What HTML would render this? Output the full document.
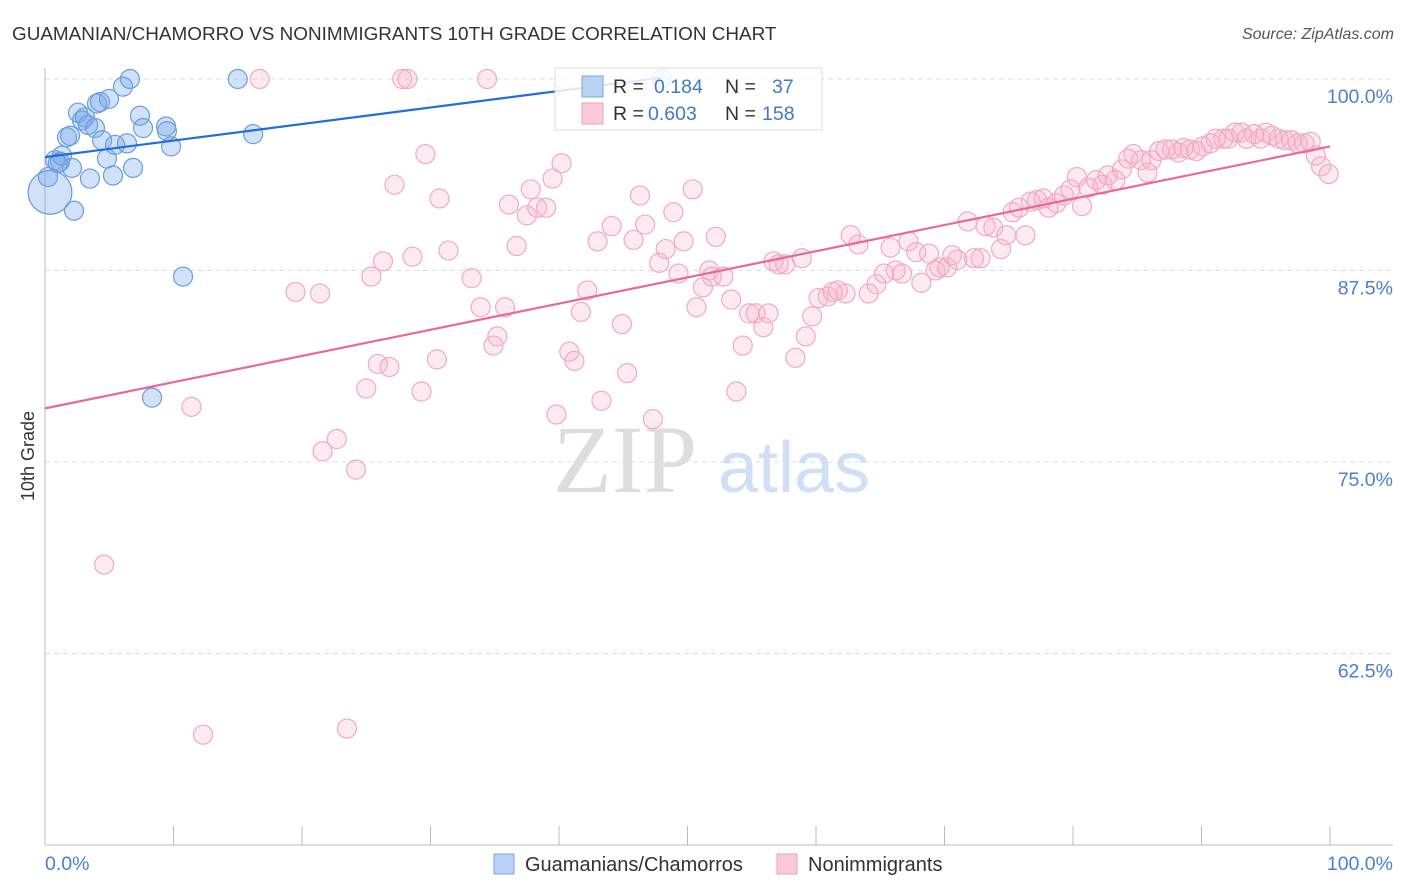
<!DOCTYPE html>
<html><head><meta charset="utf-8"><style>
body{margin:0;background:#fff;font-family:"Liberation Sans",sans-serif;}
svg{display:block}
</style></head><body>
<svg id="chart" width="1406" height="892">
<text x="12" y="40" font-size="18.9" fill="#333">GUAMANIAN/CHAMORRO VS NONIMMIGRANTS 10TH GRADE CORRELATION CHART</text>
<text x="1394" y="39" font-size="16" fill="#555" font-style="italic" text-anchor="end">Source: ZipAtlas.com</text>
<g>
<text x="553" y="492" font-size="96" fill="#ddd" font-family="Liberation Serif">ZIP</text>
<text x="718" y="492" font-size="72" fill="#cfe0f4">atlas</text>
</g>
<g id="grid"></g><g id="axes"></g><g id="pts"></g><g id="lines"></g>
<g>
<rect x="555" y="68" width="267" height="62" fill="rgba(255,255,255,0.85)" stroke="#ddd"/>
<rect x="582" y="76" width="21" height="21" fill="#b9d3f4" stroke="#7aa6e0"/>
<rect x="582" y="103" width="21" height="21" fill="#fbc9d9" stroke="#eda0bb"/>
<text y="93" font-size="19.5" fill="#333"><tspan x="613">R = </tspan><tspan x="654" fill="#3f78d0">0.184</tspan><tspan x="725">N = </tspan><tspan x="772" fill="#3f78d0">37</tspan></text>
<text y="120" font-size="19.5" fill="#333"><tspan x="613">R = </tspan><tspan x="648" fill="#3f78d0">0.603</tspan><tspan x="725">N = </tspan><tspan x="762" fill="#3f78d0">158</tspan></text>
</g>
<g>
<rect x="494" y="854" width="20" height="20" fill="#b9d3f4" stroke="#7aa6e0"/>
<text x="525" y="871" font-size="20" fill="#333">Guamanians/Chamorros</text>
<rect x="777" y="854" width="20" height="20" fill="#fbc9d9" stroke="#eda0bb"/>
<text x="808" y="871" font-size="20" fill="#333">Nonimmigrants</text>
</g>
<text transform="translate(34,456) rotate(-90)" font-size="18" fill="#333" text-anchor="middle">10th Grade</text>
</svg>
<script>
const yTicks=[100,87.5,75,62.5];
const yTickLabels=["100.0%","87.5%","75.0%","62.5%"];
const xTickLabels=["0.0%","100.0%"];
const blueX=[0.23,0.39,0.78,1.17,1.32,1.71,1.95,2.1,2.26,2.57,2.88,3.11,3.35,3.5,3.89,4.05,4.28,4.44,4.82,4.98,5.29,5.45,6.07,6.38,6.61,6.85,7.39,7.63,8.33,9.42,9.49,9.81,10.74,15.0,16.2,48.0,1.0];
const blueY=[93.6,92.6,94.7,94.6,95.0,96.2,96.3,94.2,91.4,97.8,97.3,97.5,97.0,93.5,96.8,98.4,98.5,96.0,94.8,98.7,93.7,95.7,99.5,95.8,100,94.2,97.6,96.8,79.2,96.9,96.6,95.6,87.1,100,96.4,100,94.5];
const blueSize=[1,2.3,1,1,1,1,1,1,1,1,1,1,1,1,1,1,1,1,1,1,1,1,1,1,1,1,1,1,1,1,1,1,1,1,1,1,1];
const pinkX=[4.6,12.3,11.4,16.7,19.5,21.4,21.6,22.7,23.5,24.2,25.0,25.4,25.9,26.3,26.8,27.2,27.8,28.2,28.6,29.3,29.6,30.5,30.7,31.4,33.2,33.9,34.4,34.9,35.2,35.8,36.1,36.7,37.5,37.8,38.3,39.0,39.5,39.8,40.2,40.8,41.2,41.7,42.2,43.0,43.3,44.1,44.9,45.3,45.8,46.3,46.7,47.3,47.8,48.3,48.9,49.3,49.7,50.4,50.7,51.2,51.7,51.9,52.2,52.8,53.4,53.8,54.3,54.8,55.3,55.9,56.3,56.7,57.1,57.6,58.4,58.9,59.2,59.7,60.2,60.9,61.3,61.7,62.3,62.7,63.3,64.1,64.7,65.3,65.8,66.2,66.7,67.2,67.8,68.2,68.8,69.3,69.6,70.2,70.6,71.0,71.8,72.3,72.8,73.2,73.8,74.4,74.8,75.3,75.8,76.3,76.7,77.2,77.7,78.1,78.7,79.3,79.8,80.3,80.7,81.2,81.8,82.3,82.7,83.3,83.8,84.3,84.7,85.3,85.8,86.1,86.7,87.2,87.7,88.2,88.6,89.1,89.6,90.1,90.7,91.1,91.7,92.1,92.6,93.1,93.5,94.1,94.6,95.0,95.5,96.0,96.5,97.0,97.5,98.0,98.5,98.9,99.3,99.9];
const pinkY=[68.3,57.2,78.6,100,86.1,86.0,75.7,76.5,57.6,74.5,79.8,87.1,81.4,88.1,81.2,93.1,100,100,88.4,79.6,95.1,81.7,92.2,88.8,87.0,85.1,100,82.6,83.2,85.1,91.8,89.1,91.1,92.8,91.6,91.6,93.5,78.1,94.5,82.2,81.6,84.8,86.2,89.4,79.0,90.4,84.0,80.8,89.5,92.4,90.5,77.8,88.0,88.9,91.3,87.3,89.4,92.8,85.1,86.4,87.5,87.1,89.7,87.1,85.6,79.6,82.6,84.7,84.7,83.8,84.7,88.1,87.9,87.9,81.8,88.3,83.2,84.5,85.7,85.8,86.1,86.2,86.0,89.8,89.2,86.0,86.6,87.3,89.0,87.5,87.3,89.4,88.7,86.7,88.6,87.5,87.7,87.7,88.5,88.2,90.7,88.3,88.3,90.4,90.3,88.9,89.8,91.3,91.6,89.8,92.0,92.1,92.2,91.6,91.9,92.4,92.8,93.6,91.7,92.9,93.4,93.1,93.7,93.4,94.1,94.8,95.1,94.7,93.9,94.7,95.3,95.4,95.4,95.2,95.5,95.4,95.3,95.6,95.8,96.1,96.1,96.1,96.5,96.5,96.1,96.4,96.1,96.5,96.3,96.1,96.0,96.0,95.8,95.8,95.9,95.0,94.3,93.8];
const blueTrend=[94.9,0.108,48];
const pinkTrend=[78.5,0.171,100];

const NS="http://www.w3.org/2000/svg";
const X0=45,X1=1330,YTOP=79,PER=191.5/12.5;
const sx=v=>X0+v*(X1-X0)/100;
const sy=v=>YTOP+(100-v)*PER;
function mk(tag,attrs,parent){const e=document.createElementNS(NS,tag);for(const k in attrs)e.setAttribute(k,attrs[k]);document.getElementById(parent).appendChild(e);return e;}
yTicks.forEach((t,i)=>{
 const g=mk('line',{x1:45,x2:1393,y1:sy(t),y2:sy(t),stroke:'#ddd','stroke-dasharray':'5,4'},'grid');
 
 
 const l=mk('text',{x:1393,y:sy(t)+24,'font-size':19.5,fill:'#4a7fd4','text-anchor':'end'},'axes');
 l.textContent=yTickLabels[i];
 
 
});
const ax=mk('line',{x1:45,x2:45,y1:68,y2:845,stroke:'#bbb'},'axes');


const bx=mk('line',{x1:45,x2:1393,y1:845,y2:845,stroke:'#bbb'},'axes');


for(let i=0;i<=10;i++){
 const t=mk('line',{x1:sx(i*10),x2:sx(i*10),y1:826,y2:845,stroke:'#bbb'},'axes');
 
 
}
const xl0=mk('text',{x:45,y:870,'font-size':19.5,fill:'#4a7fd4'},'axes');
xl0.textContent=xTickLabels[0];


const xl1=mk('text',{x:1393,y:870,'font-size':19.5,fill:'#4a7fd4','text-anchor':'end'},'axes');
xl1.textContent=xTickLabels[1];


pinkX.forEach((x,i)=>{
 const c=mk('circle',{cx:sx(x),cy:sy(pinkY[i]),r:9.5,fill:'rgba(248,175,200,0.28)',stroke:'#f0aac3','stroke-width':1.2},'pts');
 
 
});
blueX.forEach((x,i)=>{
 const c=mk('circle',{cx:sx(x),cy:sy(blueY[i]),r:9.5*blueSize[i],fill:'rgba(120,170,235,0.35)',stroke:'#6a9edc','stroke-width':1.2},'pts');
 
 
});
const bl=mk('line',{x1:sx(0),y1:sy(blueTrend[0]),x2:sx(blueTrend[2]),y2:sy(blueTrend[0]+blueTrend[1]*blueTrend[2]),stroke:'#1f6fd6','stroke-width':2.2},'lines');


const pl=mk('line',{x1:sx(0),y1:sy(pinkTrend[0]),x2:sx(pinkTrend[2]),y2:sy(pinkTrend[0]+pinkTrend[1]*pinkTrend[2]),stroke:'#e8689a','stroke-width':2.2},'lines');


</script>
</body></html>
